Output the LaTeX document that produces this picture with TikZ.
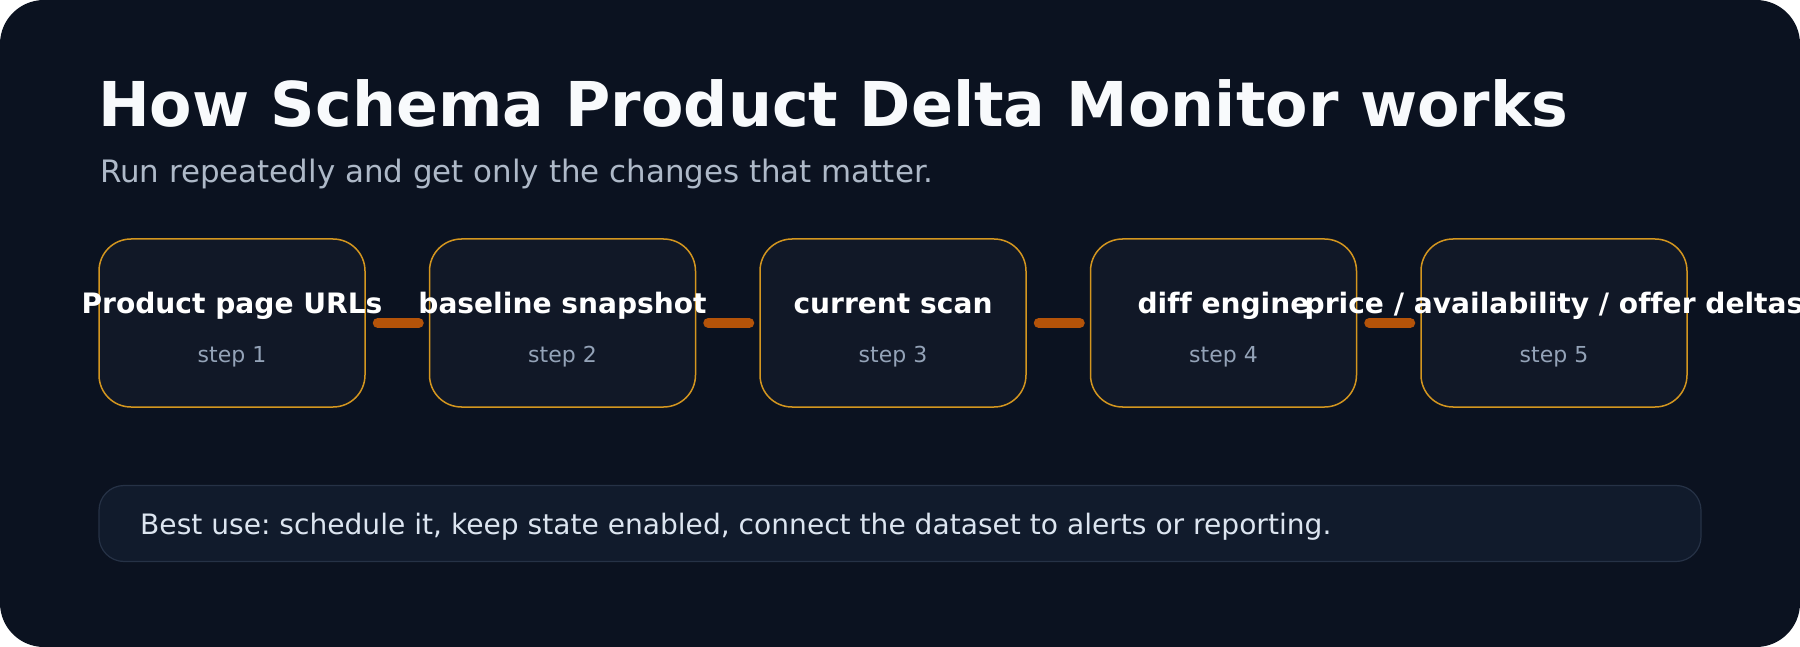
\documentclass[tikz,border=0pt]{standalone}
\usepackage{fontspec}
\setmainfont{DejaVu Sans}[Ligatures=NoCommon]
\frenchspacing
\usetikzlibrary{positioning}
\definecolor{bgdark}{HTML}{0B1220}
\definecolor{boxfill}{HTML}{111827}
\definecolor{boxedge}{HTML}{D4961F}
\definecolor{linkorange}{HTML}{B45309}
\definecolor{titlewhite}{HTML}{F8FAFC}
\definecolor{subgray}{HTML}{AEB9C8}
\definecolor{stepgray}{HTML}{94A3B8}
\definecolor{notefill}{HTML}{111B2C}
\definecolor{noteedge}{HTML}{263246}
\definecolor{notetext}{HTML}{DCE5F0}
\begin{document}
\begin{tikzpicture}[x=1pt,y=1pt,
	stepbox/.style={draw=boxedge,fill=boxfill,line width=1.5pt,rounded corners=32pt,
		minimum width=266pt,minimum height=168pt,inner sep=0pt},
	steptitle/.style={anchor=base,text=white,font=\fontsize{28.1}{34}\selectfont\bfseries},
	stepnum/.style={anchor=base,text=stepgray,font=\fontsize{22}{26}\selectfont},
	link/.style={draw=linkorange,line width=10pt,line cap=round,shorten <=12pt,shorten >=10pt}]
	\useasboundingbox (0,0) rectangle (1800,-647);
	\fill[bgdark,rounded corners=44pt] (0,0) rectangle (1800,-647);
	\node[anchor=base west,inner sep=0pt,text=titlewhite,font=\fontsize{61.8}{74}\selectfont\bfseries] (title) at (98,-127) {How Schema Product Delta Monitor works};
	\node[anchor=base west,inner sep=0pt,text=subgray,font=\fontsize{30.9}{37}\selectfont] (subtitle) at (100,-182.5) {Run repeatedly and get only the changes that matter.};
	\node[stepbox] (box1) at (232,-323) {};
	\node[stepbox,right=63pt of box1] (box2) {};
	\node[stepbox,right=63pt of box2] (box3) {};
	\node[stepbox,right=63pt of box3] (box4) {};
	\node[stepbox,right=63pt of box4] (box5) {};
	\draw[link] (box1.east) -- (box2.west);
	\draw[link] (box2.east) -- (box3.west);
	\draw[link] (box3.east) -- (box4.west);
	\draw[link] (box4.east) -- (box5.west);
	\node[steptitle] (name1) at ([yshift=10pt]box1.center) {Product page URLs};
	\node[steptitle] (name2) at ([yshift=10pt]box2.center) {baseline snapshot};
	\node[steptitle] (name3) at ([yshift=10pt]box3.center) {current scan};
	\node[steptitle] (name4) at ([yshift=10pt]box4.center) {diff engine};
	\node[steptitle] (name5) at ([yshift=10pt]box5.center) {price / availability / offer deltas};
	\node[stepnum] (num1) at ([yshift=-39pt]box1.center) {step 1};
	\node[stepnum] (num2) at ([yshift=-39pt]box2.center) {step 2};
	\node[stepnum] (num3) at ([yshift=-39pt]box3.center) {step 3};
	\node[stepnum] (num4) at ([yshift=-39pt]box4.center) {step 4};
	\node[stepnum] (num5) at ([yshift=-39pt]box5.center) {step 5};
	\node[draw=noteedge,fill=notefill,line width=1.2pt,rounded corners=25pt,minimum width=1602pt,minimum height=76pt] (note) at (900,-523.5) {};
	\node[anchor=base west,inner sep=0pt,text=notetext,font=\fontsize{28.1}{34}\selectfont] (notetxt) at (140,-534) {Best use: schedule it, keep state enabled, connect the dataset to alerts or reporting.};
\end{tikzpicture}
\end{document}
